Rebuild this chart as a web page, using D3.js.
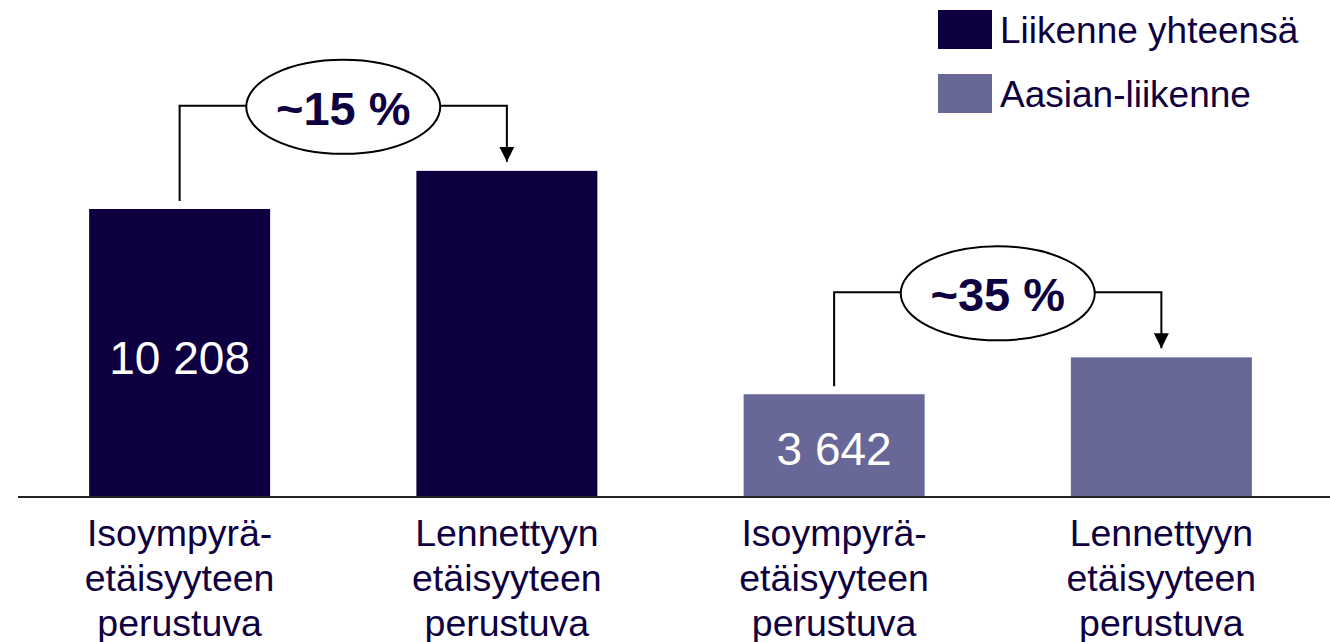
<!DOCTYPE html>
<html lang="fi">
<head>
    <meta charset="UTF-8">
    <title>Liikenne</title>
    <style>
        body { margin: 0; background: #fff; }
        svg { display: block; font-family: Arial, "Liberation Sans", sans-serif; }
        .cat { fill: #0e0040; font-size: 37.5px; }
        .legend text { fill: #0e0040; font-size: 37px; }
        .val { fill: #fff; font-size: 46px; }
        .pct { fill: #0e0040; font-size: 47px; font-weight: bold; }
    </style>
</head>
<body>
<div id="chart"></div>
<script src="https://d3js.org/d3.v7.min.js"></script>
<script>
    // data
    const categories = [
        ["Isoympyrä-", "etäisyyteen", "perustuva"],
        ["Lennettyyn", "etäisyyteen", "perustuva"],
        ["Isoympyrä-", "etäisyyteen", "perustuva"],
        ["Lennettyyn", "etäisyyteen", "perustuva"]
    ];
    const series = ["Liikenne yhteensä", "Aasian-liikenne"];
    const barSeries = [0, 0, 1, 1];
    const values = [10208, 11560, 3642, 4950];
    const shownValues = [true, false, true, false];
    const changes = [
        { from: 0, to: 1, label: "~15 %" },
        { from: 2, to: 3, label: "~35 %" }
    ];

    const colors = ["#0e0040", "#686898"];

    const W = 1330, H = 642;
    const baseY = 497;

    const fi = d3.formatLocale({ decimal: ",", thousands: " ", grouping: [3], currency: ["", " €"] });
    const fmt = fi.format(",d");

    const svg = d3.select("#chart").append("svg")
        .attr("width", W)
        .attr("height", H);

    const x = d3.scaleBand()
        .domain(d3.range(values.length))
        .range([16, 1325])
        .paddingInner(0.447)
        .paddingOuter(0.2235);

    const y = d3.scaleLinear()
        .domain([0, 12000])
        .range([baseY, baseY - 12000 * 288 / 10208]);

    // bars
    svg.selectAll(".bar")
        .data(values)
        .enter().append("rect")
        .attr("class", "bar")
        .attr("x", (d, i) => x(i))
        .attr("y", d => y(d))
        .attr("width", x.bandwidth())
        .attr("height", d => y(0) - y(d))
        .attr("fill", (d, i) => colors[barSeries[i]]);

    // value labels inside bars
    svg.selectAll(".val")
        .data(values.map((v, i) => ({ v, i })).filter(d => shownValues[d.i]))
        .enter().append("text")
        .attr("class", "val")
        .attr("x", d => x(d.i) + x.bandwidth() / 2)
        .attr("y", d => (y(d.v) + baseY) / 2 + (d.i === 0 ? 21 : 19))
        .attr("text-anchor", "middle")
        .text(d => fmt(d.v));

    // baseline
    svg.append("line")
        .attr("x1", 18).attr("x2", W)
        .attr("y1", baseY).attr("y2", baseY)
        .attr("stroke", "#222")
        .attr("stroke-width", 2);

    // category labels
    const cat = svg.selectAll(".cat")
        .data(categories)
        .enter().append("text")
        .attr("class", "cat")
        .attr("text-anchor", "middle")
        .attr("x", (d, i) => x(i) + x.bandwidth() / 2)
        .attr("y", 546);
    cat.selectAll("tspan")
        .data(d => d)
        .enter().append("tspan")
        .attr("x", function () { return d3.select(this.parentNode).attr("x"); })
        .attr("dy", (d, j) => j === 0 ? 0 : 45)
        .text(d => d);

    // change brackets
    svg.append("defs").append("marker")
        .attr("id", "arrow")
        .attr("viewBox", "0 0 10 10")
        .attr("refX", 10).attr("refY", 5)
        .attr("markerWidth", 15).attr("markerHeight", 15)
        .attr("markerUnits", "userSpaceOnUse")
        .attr("orient", "auto")
        .append("path")
        .attr("d", "M0,0L10,5L0,10Z")
        .attr("fill", "#000");

    changes.forEach(c => {
        const x0 = x(c.from) + x.bandwidth() / 2;
        const x1 = x(c.to) + x.bandwidth() / 2;
        const yl = y(values[c.to]) - 65;
        const g = svg.append("g");

        g.append("path")
            .attr("d", `M${x0},${y(values[c.from]) - 8}V${yl}H${x1}V${y(values[c.to]) - 9}`)
            .attr("fill", "none")
            .attr("stroke", "#000")
            .attr("stroke-width", 2)
            .attr("marker-end", "url(#arrow)");

        g.append("ellipse")
            .attr("cx", (x0 + x1) / 2)
            .attr("cy", yl + 1)
            .attr("rx", 97)
            .attr("ry", 47)
            .attr("fill", "#fff")
            .attr("stroke", "#000")
            .attr("stroke-width", 2);

        g.append("text")
            .attr("class", "pct")
            .attr("x", (x0 + x1) / 2)
            .attr("y", yl + 19)
            .attr("text-anchor", "middle")
            .text(c.label);
    });

    // legend
    const legend = svg.append("g").attr("class", "legend")
        .selectAll("g")
        .data(series)
        .enter().append("g")
        .attr("transform", (d, i) => `translate(938,${10 + i * 64})`);
    legend.append("rect")
        .attr("width", 54)
        .attr("height", 39)
        .attr("fill", (d, i) => colors[i]);
    legend.append("text")
        .attr("x", 62)
        .attr("y", 33)
        .text(d => d);
</script>
</body>
</html>
